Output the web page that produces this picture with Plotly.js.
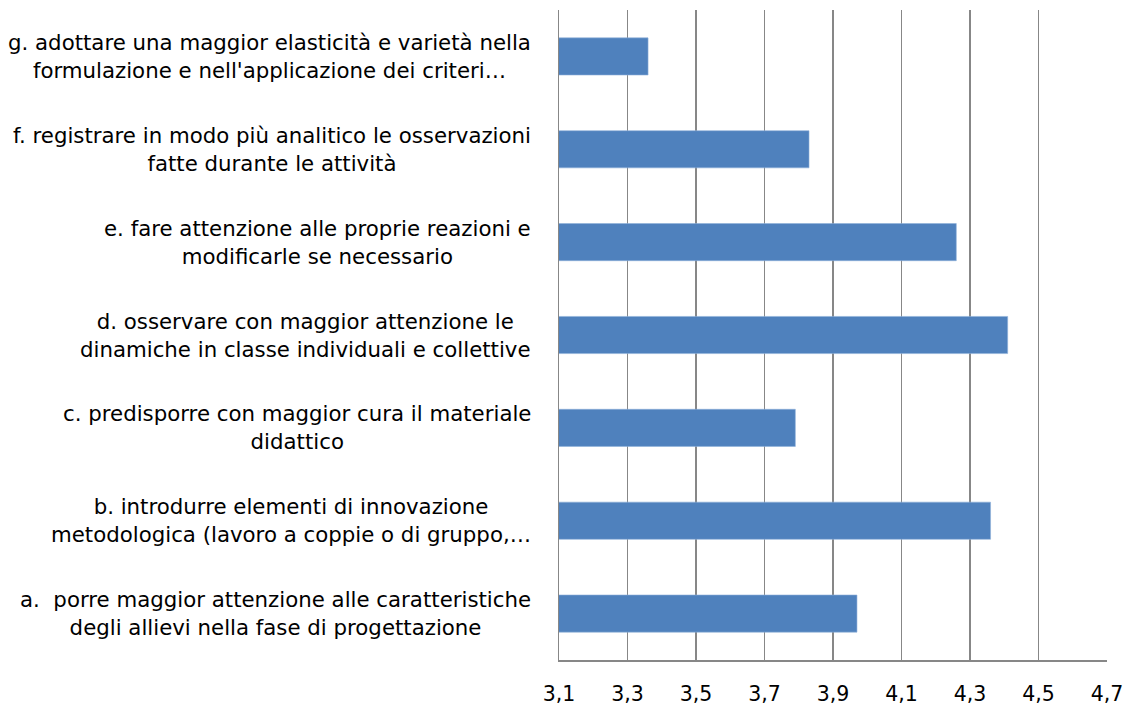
<!DOCTYPE html>
<html>
<head>
<meta charset="utf-8">
<script src="https://cdn.plot.ly/plotly-3.0.1.min.js"></script>
<style>html,body{margin:0;padding:0;background:#fff;}#chart{width:1128px;height:706px;}</style>
</head>
<body>
<div id="chart"></div>
<script>
const categories = [
  "a.  porre maggior attenzione alle caratteristiche<br>degli allievi nella fase di progettazione",
  "b. introdurre elementi di innovazione<br>metodologica (lavoro a coppie o di gruppo,…",
  "c. predisporre con maggior cura il materiale<br>didattico",
  "d. osservare con maggior attenzione le<br>dinamiche in classe individuali e collettive",
  "e. fare attenzione alle proprie reazioni e<br>modificarle se necessario",
  "f. registrare in modo più analitico le osservazioni<br>fatte durante le attività",
  "g. adottare una maggior elasticità e varietà nella<br>formulazione e nell'applicazione dei criteri…"
];
const categoryKeys = ["a", "b", "c", "d", "e", "f", "g"];
const values = [3.97, 4.36, 3.79, 4.41, 4.26, 3.83, 3.36];
const tickValues = [3.1, 3.3, 3.5, 3.7, 3.9, 4.1, 4.3, 4.5, 4.7];

const fontFamily = "'DejaVu Sans', 'Open Sans', sans-serif";

const trace = {
  type: "bar",
  orientation: "h",
  x: values,
  y: categoryKeys,
  marker: { color: "#4F81BD", line: { color: "#8FB0DA", width: 0.6 } },
  hoverinfo: "x+y"
};

const annotations = categoryKeys.map((k, i) => ({
  xref: "paper", yref: "y",
  x: 0, y: k,
  xanchor: "right", yanchor: "middle",
  xshift: -26,
  align: "center",
  showarrow: false,
  text: categories[i],
  font: { family: fontFamily, size: 21.3, color: "#000" }
}));

const layout = {
  width: 1128, height: 706,
  margin: { l: 559, r: 21, t: 10, b: 46 },
  paper_bgcolor: "#fff", plot_bgcolor: "#fff",
  separators: ",.",
  showlegend: false,
  bargap: 0.6,
  font: { family: fontFamily, size: 20.5, color: "#000" },
  xaxis: {
    range: [3.1, 4.7],
    tickvals: tickValues,
    tickformat: ".1f",
    showgrid: true, gridcolor: "#878787", gridwidth: 1.5,
    zeroline: false,
    showline: true, linecolor: "#878787", linewidth: 1.5,
    ticks: "", ticklabelstandoff: 15,
    tickfont: { family: fontFamily, size: 20.5, color: "#000" }
  },
  yaxis: {
    type: "category",
    categoryarray: categoryKeys,
    showticklabels: false,
    showgrid: false, zeroline: false,
    showline: true, linecolor: "#878787", linewidth: 1.5,
    ticks: ""
  },
  annotations: annotations
};

Plotly.newPlot("chart", [trace], layout, { displayModeBar: false, staticPlot: true });
</script>
</body>
</html>
